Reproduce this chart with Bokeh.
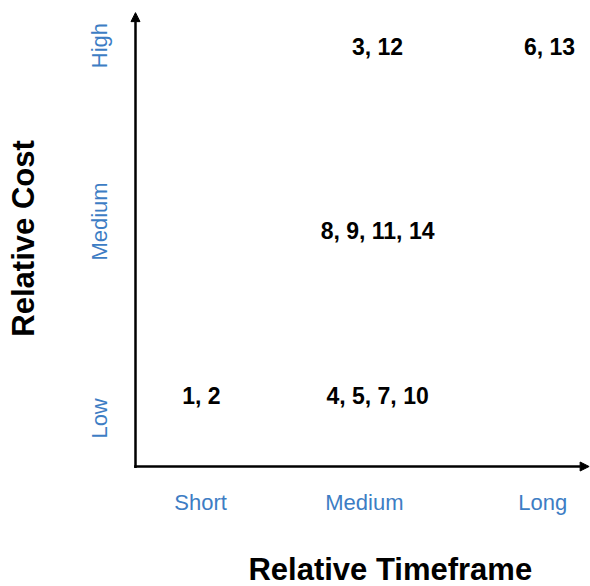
import math
from bokeh.plotting import figure
from bokeh.models import ColumnDataSource, Range1d, Arrow, NormalHead
from bokeh.core.properties import value
from bokeh.embed import file_html
from bokeh.resources import INLINE

# tick categories and their positions on the axes
time_levels = ["Short", "Medium", "Long"]
time_ticks = [1.43, 5.03, 8.95]
cost_levels = ["Low", "Medium", "High"]
cost_ticks = [1.05, 5.35, 9.19]

# grouped item labels and where they sit
groups = ["1, 2", "4, 5, 7, 10", "8, 9, 11, 14", "3, 12", "6, 13"]
group_time = [1.45, 5.32, 5.32, 5.32, 9.10]
group_cost = [1.53, 1.53, 5.15, 9.17, 9.17]

x_title = "Relative Timeframe"
y_title = "Relative Cost"

BLUE = "#3d7dc4"
FONT = "Liberation Sans"

# layout constants, in data units outside the plotted quadrant
TIME_LABEL_ROW = -0.786
TIME_TITLE_ROW = -2.238
TIME_TITLE_X = 5.60
COST_LABEL_COL = -0.791
COST_TITLE_COL = -2.451
COST_TITLE_Y = 4.98

p = figure(width=590, height=586,
           x_range=Range1d(-2.967, 10.0), y_range=Range1d(-2.62, 10.175),
           x_axis_location=None, y_axis_location=None,
           output_backend="svg", toolbar_location=None,
           min_border_left=0, min_border_right=0,
           min_border_top=0, min_border_bottom=0)
p.outline_line_color = None
p.grid.visible = False
p.background_fill_color = "white"
p.border_fill_color = "white"

# time axis: category labels and title
tsrc = ColumnDataSource(dict(x=time_ticks, y=[TIME_LABEL_ROW] * len(time_ticks), t=time_levels))
p.text(x="x", y="y", text="t", source=tsrc, text_align="center", text_baseline="middle",
       text_font=value(FONT), text_font_size="22px", text_color=BLUE)
p.text(x=[TIME_TITLE_X], y=[TIME_TITLE_ROW], text=[x_title], text_align="center",
       text_baseline="middle", text_font=value(FONT), text_font_style="bold",
       text_font_size="31px", text_color="black")

# cost axis: category labels and title (rotated, reading upward)
csrc = ColumnDataSource(dict(x=[COST_LABEL_COL] * len(cost_ticks), y=cost_ticks, t=cost_levels))
p.text(x="x", y="y", text="t", source=csrc, angle=math.pi / 2, text_align="center",
       text_baseline="middle", text_font=value(FONT), text_font_size="22px", text_color=BLUE)
p.text(x=[COST_TITLE_COL], y=[COST_TITLE_Y], text=[y_title], angle=math.pi / 2,
       text_align="center", text_baseline="middle", text_font=value(FONT),
       text_font_style="bold", text_font_size="31px", text_color="black")

# axis arrows
p.add_layout(Arrow(end=NormalHead(size=9, fill_color="black", line_color="black", line_width=1),
                   x_start=-0.03, y_start=0, x_end=9.97, y_end=0,
                   line_width=2.5, line_color="black"))
p.add_layout(Arrow(end=NormalHead(size=9, fill_color="black", line_color="black", line_width=1),
                   x_start=0, y_start=-0.03, x_end=0, y_end=9.91,
                   line_width=2.5, line_color="black"))

# grouped item labels
src = ColumnDataSource(dict(x=group_time, y=group_cost, t=groups))
p.text(x="x", y="y", text="t", source=src, text_align="center", text_baseline="middle",
       text_font=value(FONT), text_font_style="bold", text_font_size="23px",
       text_color="black")

open("out.html", "w").write(file_html(p, INLINE))
